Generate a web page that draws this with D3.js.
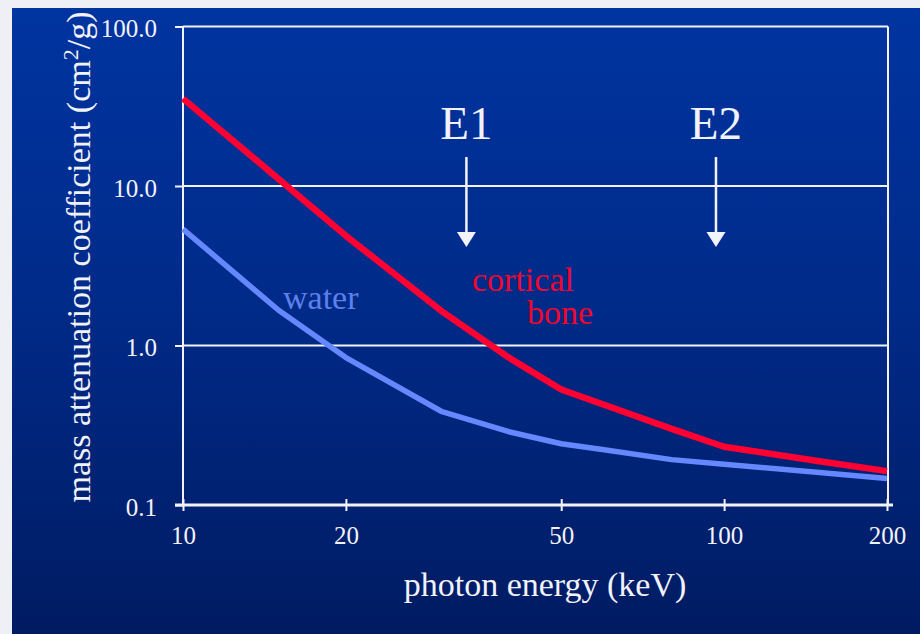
<!DOCTYPE html>
<html>
<head>
<meta charset="utf-8">
<script src="https://cdn.jsdelivr.net/npm/d3@7"></script>
<style>
  html, body { margin: 0; padding: 0; background: #eef0f5; }
  svg { display: block; }
  text { font-family: "Liberation Serif", "Times New Roman", serif; }
</style>
</head>
<body>
<svg id="chart" width="920" height="634"></svg>
<script>
// ---- data ----
const energies = [10, 15, 20, 30, 40, 50, 60, 80, 100, 150, 200];           // keV
const corticalBone = [35.3, 11.1, 4.87, 1.65, 0.84, 0.53, 0.425, 0.30, 0.232, 0.188, 0.163];
const water = [5.36, 1.67, 0.84, 0.387, 0.288, 0.242, 0.222, 0.1925, 0.180, 0.160, 0.1465];
const xTicks = [10, 20, 50, 100, 200];
const yTicks = [0.1, 1, 10, 100];
const markerLabels = ["E1", "E2"];
const markerEnergies = [33.4, 96.6];

(function () {
// ---- layout ----
const W = 920, H = 634;
const pLeft = 183, pRight = 887, pTop = 26.5, pBottom = 505;

const svg = d3.select("#chart");
const defs = svg.append("defs");
const grad = defs.append("linearGradient").attr("id", "bg").attr("x1", 0).attr("y1", 0).attr("x2", 0).attr("y2", 1);
grad.append("stop").attr("offset", "0%").attr("stop-color", "#0034a0");
grad.append("stop").attr("offset", "45%").attr("stop-color", "#002b8a");
grad.append("stop").attr("offset", "100%").attr("stop-color", "#001b62");

svg.append("rect").attr("width", W).attr("height", H).attr("fill", "#eef0f5");
svg.append("rect").attr("x", 12).attr("y", 8).attr("width", W - 12).attr("height", H - 8).attr("fill", "url(#bg)");

const x = d3.scaleLog().domain([10, 200]).range([pLeft, pRight]);
const y = d3.scaleLog().domain([0.1, 100]).range([pBottom, pTop]);

const white = "#f2f2fa";

// gridlines
svg.append("g").selectAll("line").data(yTicks.filter(v => v > 0.1)).join("line")
  .attr("x1", pLeft).attr("x2", pRight + 1)
  .attr("y1", d => y(d)).attr("y2", d => y(d))
  .attr("stroke", white).attr("stroke-width", 2);

// right border
svg.append("line").attr("x1", pRight + 1).attr("x2", pRight + 1).attr("y1", pTop).attr("y2", pBottom)
  .attr("stroke", white).attr("stroke-width", 2);

// y axis
const yAxis = svg.append("g").attr("transform", `translate(${pLeft},0)`)
  .call(d3.axisLeft(y).tickValues(yTicks).tickFormat(d3.format(".1f")).tickSize(8).tickPadding(18));
yAxis.select(".domain").attr("stroke", white).attr("stroke-width", 2).attr("d", `M0,${pTop}V${pBottom}`);
yAxis.selectAll(".tick line").attr("stroke", white).attr("stroke-width", 2);
yAxis.selectAll(".tick text").attr("fill", white).attr("font-size", 25)
  .attr("font-family", "Liberation Serif").attr("dy", "0.4em");

// x axis
const xAxis = svg.append("g").attr("transform", `translate(0,${pBottom})`)
  .call(d3.axisBottom(x).tickValues(xTicks).tickFormat(d3.format("d")).tickSize(6).tickPadding(15));
xAxis.select(".domain").attr("stroke", white).attr("stroke-width", 3).attr("d", `M${pLeft - 8},0H${pRight + 6}`);
xAxis.selectAll(".tick line").attr("stroke", white).attr("stroke-width", 2).attr("y1", -6);
xAxis.selectAll(".tick text").attr("fill", white).attr("font-size", 25).attr("font-family", "Liberation Serif");

// curves
const line = d3.line().x(d => x(d[0])).y(d => y(d[1])).curve(d3.curveLinear);
svg.append("path").datum(energies.map((e, i) => [e, water[i]]))
  .attr("d", line).attr("fill", "none").attr("stroke", "#6688ff").attr("stroke-width", 5.5)
  .attr("stroke-linejoin", "round");
svg.append("path").datum(energies.map((e, i) => [e, corticalBone[i]]))
  .attr("d", line).attr("fill", "none").attr("stroke", "#ff0033").attr("stroke-width", 6.5)
  .attr("stroke-linejoin", "round");

// curve labels
svg.append("text").attr("x", 283).attr("y", 309).attr("font-size", 34).attr("fill", "#5f80ea").text("water");
svg.append("text").attr("x", 472).attr("y", 291).attr("font-size", 34).attr("fill", "#f0062e").text("cortical");
svg.append("text").attr("x", 527).attr("y", 324).attr("font-size", 34).attr("fill", "#f0062e").text("bone");

// energy markers
const mk = svg.append("g").selectAll("g").data(markerLabels.map((l, i) => ({ l, e: markerEnergies[i] }))).join("g")
  .attr("transform", d => `translate(${x(d.e)},0)`);
mk.append("text").attr("x", 0).attr("y", 139).attr("text-anchor", "middle")
  .attr("font-size", 47).attr("fill", white).text(d => d.l);
mk.append("line").attr("x1", 0).attr("x2", 0).attr("y1", 157).attr("y2", 236)
  .attr("stroke", white).attr("stroke-width", 2.5);
mk.append("path").attr("d", "M-9.5,232L9.5,232L0,247Z").attr("fill", white);

// axis titles
svg.append("text").attr("x", 545).attr("y", 596).attr("text-anchor", "middle")
  .attr("font-size", 34).attr("fill", white).text("photon energy (keV)");

const yt = svg.append("text").attr("transform", "translate(90,257) rotate(-90)")
  .attr("text-anchor", "middle").attr("font-size", 34).attr("fill", white);
yt.append("tspan").text("mass attenuation coefficient (cm");
yt.append("tspan").attr("font-size", 22).attr("dy", -12).text("2");
yt.append("tspan").attr("dy", 12).text("/g)");
})();
</script>
</body>
</html>
